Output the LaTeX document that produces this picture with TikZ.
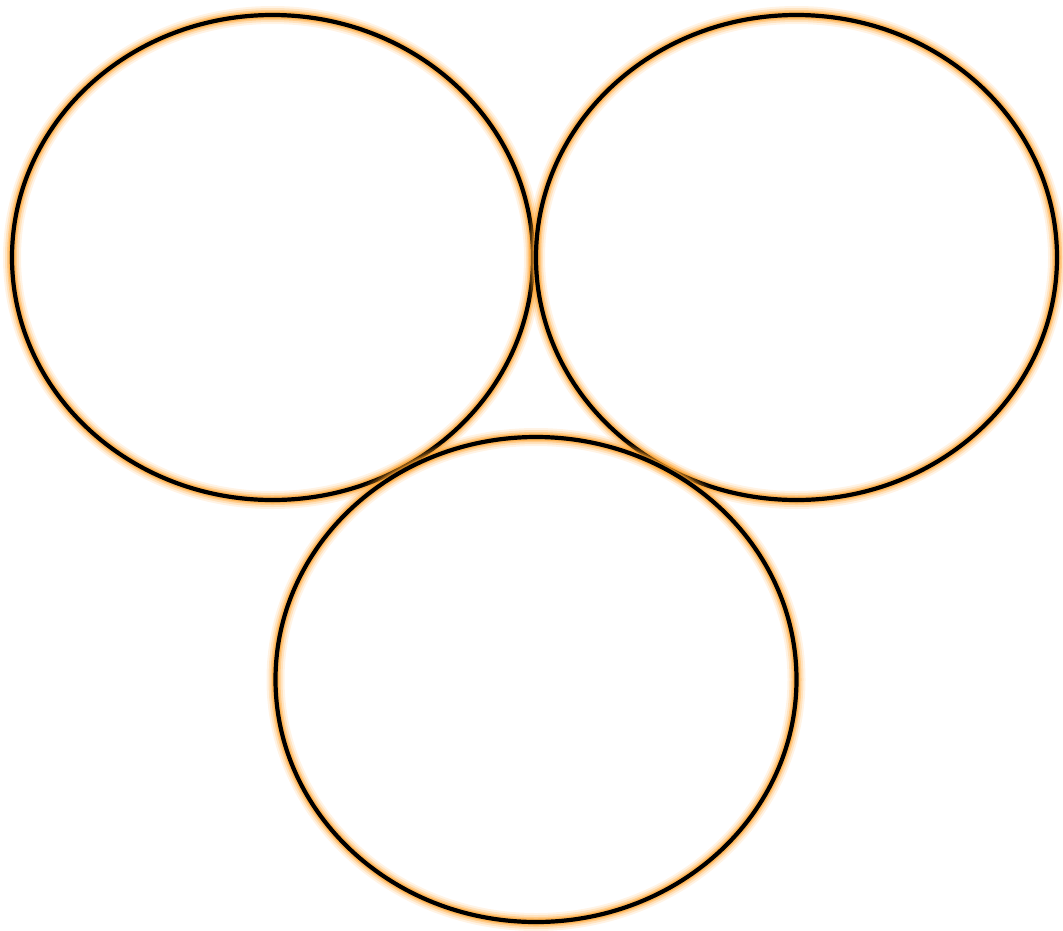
\documentclass[tikz,border=0pt]{standalone}
\usetikzlibrary{shapes.geometric}
\definecolor{glowc}{RGB}{255,160,40}
\tikzset{
  ring/.style={ellipse, inner sep=0pt, minimum width=521pt, minimum height=485pt,
    preaction={draw=glowc, line width=18pt, draw opacity=0.12},
    preaction={draw=glowc, line width=14pt, draw opacity=0.2},
    preaction={draw=glowc, line width=10pt, draw opacity=0.35},
    preaction={draw=glowc, line width=7pt, draw opacity=0.55},
    draw=black, line width=4.2pt}
}
\begin{document}
\begin{tikzpicture}[x=1pt,y=-1pt]
\useasboundingbox (0,0) rectangle (1063,930);
\node[ring] (a) at (272.5,257.5) {};
\node[ring] (b) at (796.5,257.5) {};
\node[ring] (c) at (536,679.5) {};
\end{tikzpicture}
\end{document}
